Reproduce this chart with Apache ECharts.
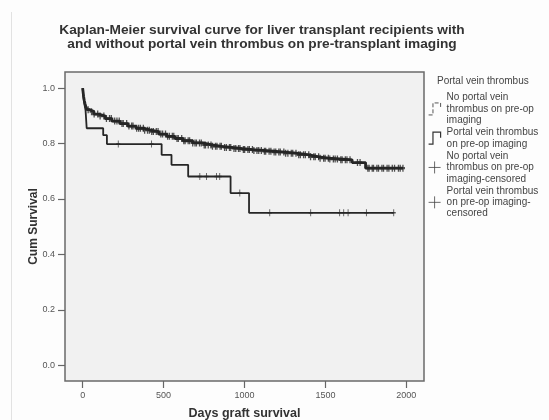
<!DOCTYPE html>
<html>
<head>
<meta charset="utf-8">
<script src="https://cdn.jsdelivr.net/npm/echarts@6/dist/echarts.min.js"></script>
<style>
html,body{margin:0;padding:0;background:#fdfdfd;}
#c{width:549px;height:420px;}
</style>
</head>
<body>
<div id="c"></div>
<script>
// ---- data ----
const titleLines = ['Kaplan-Meier survival curve for liver transplant recipients with', 'and without portal vein thrombus on pre-transplant imaging'];
const xTicks = [0, 500, 1000, 1500, 2000];
const yTicks = [0.0, 0.2, 0.4, 0.6, 0.8, 1.0];

// No portal vein thrombus: step curve (time, survival after step)
const noPvtTime = [0, 3, 6, 10, 15, 20, 28, 45, 70, 100, 140, 180, 230, 280, 330, 380, 420, 470, 520, 570, 620, 680, 740, 800, 860, 920, 980, 1050, 1120, 1180, 1250, 1320, 1400, 1460, 1520, 1590, 1665, 1748, 1980];
const noPvtSurv = [1.0, 0.985, 0.97, 0.955, 0.943, 0.932, 0.922, 0.915, 0.906, 0.899, 0.89, 0.881, 0.872, 0.863, 0.855, 0.848, 0.843, 0.834, 0.826, 0.818, 0.81, 0.802, 0.795, 0.79, 0.786, 0.782, 0.778, 0.775, 0.772, 0.769, 0.765, 0.759, 0.752, 0.747, 0.744, 0.741, 0.731, 0.711, 0.711];
// censored times, no PVT
const noPvtCensor = [34, 55, 71, 93, 108, 131, 147, 166, 177, 198, 212, 226, 243, 251, 272, 286, 303, 311, 334, 346, 357, 375, 383, 401, 412, 427, 437, 455, 466, 483, 494, 512, 525, 536, 554, 563, 583, 591, 612, 625, 633, 652, 661, 680, 694, 703, 722, 733, 751, 759, 776, 793, 802, 821, 830, 849, 857, 877, 888, 907, 915, 935, 946, 963, 972, 993, 1001, 1021, 1030, 1049, 1058, 1077, 1088, 1104, 1123, 1131, 1152, 1163, 1183, 1193, 1212, 1221, 1243, 1254, 1268, 1289, 1298, 1318, 1335, 1345, 1365, 1376, 1397, 1408, 1428, 1437, 1458, 1467, 1489, 1498, 1518, 1527, 1549, 1560, 1574, 1595, 1603, 1623, 1633, 1652, 1698, 1714, 1762, 1770, 1789, 1797, 1818, 1828, 1849, 1859, 1881, 1892, 1913, 1927, 1951, 1962, 1979];

// Portal vein thrombus: step curve
const pvtTime = [0, 4, 10, 18, 25, 127, 150, 488, 549, 652, 914, 1028, 1922];
const pvtSurv = [1.0, 0.97, 0.945, 0.92, 0.855, 0.83, 0.798, 0.759, 0.723, 0.681, 0.621, 0.55, 0.55];
const pvtCensor = [220, 426, 724, 765, 827, 847, 971, 1156, 1409, 1588, 1613, 1640, 1753, 1922];

const seriesNames = [
  'No portal vein thrombus on pre-op imaging',
  'Portal vein thrombus on pre-op imaging',
  'No portal vein thrombus on pre-op imaging-censored',
  'Portal vein thrombus on pre-op imaging-censored'
];
const legendLabels = [
  'No portal vein\nthrombus on pre-op\nimaging',
  'Portal vein thrombus\non pre-op imaging',
  'No portal vein\nthrombus on pre-op\nimaging-censored',
  'Portal vein thrombus\non pre-op imaging-\ncensored'
];
const legendTitle = 'Portal vein thrombus';
const xName = 'Days graft survival';
const yName = 'Cum Survival';

// ---- build ----
function stepAt(times, surv, t) {
  let s = surv[0];
  for (let i = 0; i < times.length; i++) { if (times[i] <= t) s = surv[i]; }
  return s;
}
const noPvtLine = noPvtTime.map((t, i) => [t, noPvtSurv[i]]);
const pvtLine = pvtTime.map((t, i) => [t, pvtSurv[i]]);
const noPvtMarks = noPvtCensor.map(t => [t, stepAt(noPvtTime, noPvtSurv, t)]);
const pvtMarks = pvtCensor.map(t => [t, stepAt(pvtTime, pvtSurv, t)]);

const ink = '#262626';
const font = 'Liberation Sans, Arial, sans-serif';
const plusPath = 'path://M0,5 L10,5 M5,0 L5,10';
const stepPath = 'path://M0,12 L4,12 L4,1 L11,1 L11,6';
const tickPath = 'path://M0,5 L4,5 M2,0 L2,10';

const chart = echarts.init(document.getElementById('c'), null, {renderer: 'canvas'});
chart.setOption({
  animation: false,
  backgroundColor: '#fdfdfd',
  title: [
    {
      text: titleLines.join('\n'),
      left: 262, top: 23, textAlign: 'center', padding: 0,
      textStyle: {fontFamily: font, fontSize: 13.7, fontWeight: 'bold', color: '#333', lineHeight: 14}
    },
    {
      text: legendTitle,
      left: 437, top: 75.5, padding: 0,
      textStyle: {fontFamily: font, fontSize: 10, fontWeight: 'normal', color: '#444', lineHeight: 11}
    }
  ],
  graphic: [
    {type: 'line', shape: {x1: 11.5, y1: 12, x2: 11.5, y2: 420}, style: {stroke: '#e2e2e2', lineWidth: 1}, silent: true}
  ],
  legend: {
    orient: 'vertical', left: 428, top: 92, padding: 0, itemGap: 1,
    itemWidth: 14, itemHeight: 12, align: 'left',
    selectedMode: false,
    textStyle: {fontFamily: font, fontSize: 10, color: '#444', lineHeight: 11.3},
    formatter: name => legendLabels[seriesNames.indexOf(name)],
    data: [
      {name: seriesNames[0], icon: stepPath, itemStyle: {color: 'rgba(0,0,0,0)', borderColor: '#555', borderWidth: 1, borderType: 'dashed'}},
      {name: seriesNames[1], icon: stepPath, itemStyle: {color: 'rgba(0,0,0,0)', borderColor: '#333', borderWidth: 1.2, borderType: 'solid'}},
      {name: seriesNames[2], icon: plusPath, itemStyle: {color: 'rgba(0,0,0,0)', borderColor: '#444', borderWidth: 1}},
      {name: seriesNames[3], icon: plusPath, itemStyle: {color: 'rgba(0,0,0,0)', borderColor: '#444', borderWidth: 1}}
    ]
  },
  grid: {
    left: 65, right: 125, top: 72, bottom: 39,
    containLabel: false, outerBoundsMode: 'none',
    show: true, backgroundColor: '#f1f1f1', borderColor: '#6a6a6a', borderWidth: 1.5
  },
  xAxis: {
    type: 'value', min: -109, max: 2109, position: 'bottom',
    name: xName, nameLocation: 'middle', nameGap: 26, nameMoveOverlap: false,
    nameTextStyle: {fontFamily: font, fontSize: 12.5, fontWeight: 'bold', color: '#333'},
    axisLine: {show: false, onZero: false},
    axisTick: {show: true, inside: false, customValues: xTicks, length: 7, lineStyle: {color: '#666', width: 1.2}},
    axisLabel: {customValues: xTicks, margin: 10, fontFamily: font, fontSize: 9, color: '#555', formatter: v => String(v)},
    splitLine: {show: false}
  },
  yAxis: {
    type: 'value', min: -0.057, max: 1.058, position: 'left',
    name: yName, nameLocation: 'middle', nameGap: 25, nameMoveOverlap: false,
    nameTextStyle: {fontFamily: font, fontSize: 12, fontWeight: 'bold', color: '#333'},
    axisLine: {show: false, onZero: false},
    axisTick: {show: true, inside: false, customValues: yTicks, length: 7, lineStyle: {color: '#666', width: 1.2}},
    axisLabel: {customValues: yTicks, margin: 10, fontFamily: font, fontSize: 9, color: '#555', formatter: v => v.toFixed(1)},
    splitLine: {show: false}
  },
  series: [
    {
      name: seriesNames[0], type: 'line', step: 'end', data: noPvtLine,
      showSymbol: false, symbol: 'none', z: 3,
      lineStyle: {color: ink, width: 2.8}, itemStyle: {color: ink}
    },
    {
      name: seriesNames[1], type: 'line', step: 'end', data: pvtLine,
      showSymbol: false, symbol: 'none', z: 3,
      lineStyle: {color: ink, width: 1.8}, itemStyle: {color: ink}
    },
    {
      name: seriesNames[2], type: 'scatter', data: noPvtMarks, symbol: tickPath, symbolSize: [4, 7], z: 4,
      itemStyle: {color: 'rgba(0,0,0,0)', borderColor: ink, borderWidth: 1.7}
    },
    {
      name: seriesNames[3], type: 'scatter', data: pvtMarks, symbol: tickPath, symbolSize: [4, 7], z: 4,
      itemStyle: {color: 'rgba(0,0,0,0)', borderColor: ink, borderWidth: 1.1}
    }
  ]
});
</script>
</body>
</html>
